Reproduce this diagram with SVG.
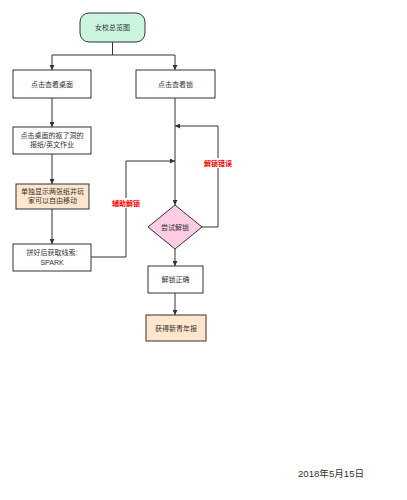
<svg xmlns="http://www.w3.org/2000/svg" width="407" height="500" viewBox="0 0 407 500">
<style>
.n{stroke:#333;stroke-width:1;fill:#fff}
.t{font-family:"Liberation Sans","Noto Sans CJK SC",sans-serif;font-size:7px;fill:#333;text-anchor:middle}
.l{font-family:"Liberation Sans","Noto Sans CJK SC",sans-serif;font-size:7px;fill:#ff0000;font-weight:bold;text-anchor:middle}
.c{fill:none;stroke:#333;stroke-width:1}
.bg{fill:#fff}
</style>
<defs>
<marker id="a" viewBox="0 0 10 10" refX="10" refY="5" markerWidth="5" markerHeight="5" orient="auto" markerUnits="userSpaceOnUse">
<path d="M0,0 L10,5 L0,10 Z" fill="#333"/>
</marker>
</defs>
<rect width="407" height="500" fill="#fff"/>
<g id="connectors">
<path class="c" d="M112.5,42 V55 H52 V70" marker-end="url(#a)"/>
<path class="c" d="M112.5,55 H175 V70" marker-end="url(#a)"/>
<path class="c" d="M52,98 V127" marker-end="url(#a)"/>
<path class="c" d="M52,154 V184" marker-end="url(#a)"/>
<path class="c" d="M52,209 V244" marker-end="url(#a)"/>
<path class="c" d="M175,98 V205" marker-end="url(#a)"/>
<path class="c" d="M91,257 H126 V161 H175" marker-end="url(#a)"/>
<path class="c" d="M202,227 H218 V126 H175" marker-end="url(#a)"/>
<path class="c" d="M175,249 V266" marker-end="url(#a)"/>
<path class="c" d="M175,293 V315" marker-end="url(#a)"/>
<rect class="bg" x="111" y="198" width="30" height="10"/>
<text class="l" x="126" y="205.5">辅助解锁</text>
<rect class="bg" x="203" y="158" width="30" height="10"/>
<text class="l" x="218" y="165.5">解锁错误</text>
</g>
<g id="start">
<rect class="n" x="80" y="13" width="65" height="29" rx="9" style="fill:#ccf5e0"/>
<text class="t" x="112.5" y="30">女校总览图</text>
</g>
<g id="desk">
<rect class="n" x="13" y="70" width="78" height="28"/>
<text class="t" x="52" y="86.5">点击查看桌面</text>
</g>
<g id="lock">
<rect class="n" x="136" y="70" width="79" height="28"/>
<text class="t" x="175.5" y="86.5">点击查看锁</text>
</g>
<g id="paper">
<rect class="n" x="13" y="127" width="78" height="27"/>
<text class="t" x="52" y="138">点击桌面的抠了洞的</text>
<text class="t" x="52" y="147">报纸/英文作业</text>
</g>
<g id="show">
<rect class="n" x="16" y="184" width="73" height="25" style="fill:#ffe6cc"/>
<text class="t" x="52.5" y="194">单独显示两张纸并玩</text>
<text class="t" x="52.5" y="203">家可以自由移动</text>
</g>
<g id="clue">
<rect class="n" x="13" y="244" width="78" height="27"/>
<text class="t" x="52" y="255">拼好后获取线索:</text>
<text class="t" x="52" y="264.5">SPARK</text>
</g>
<g id="try">
<path class="n" d="M175,205 L202,227 L175,249 L148,227 Z" style="fill:#ffcce6"/>
<text class="t" x="175" y="229.5">尝试解锁</text>
</g>
<g id="ok">
<rect class="n" x="148" y="266" width="55" height="27"/>
<text class="t" x="175.5" y="282">解锁正确</text>
</g>
<g id="news">
<rect class="n" x="146" y="315" width="60" height="26" style="fill:#ffe6cc"/>
<text class="t" x="176" y="330.5">获得新青年报</text>
</g>
<text x="298" y="476.5" font-family="Liberation Sans,Noto Sans CJK SC,sans-serif" font-size="9.6" fill="#333">2018年5月15日</text>
</svg>
